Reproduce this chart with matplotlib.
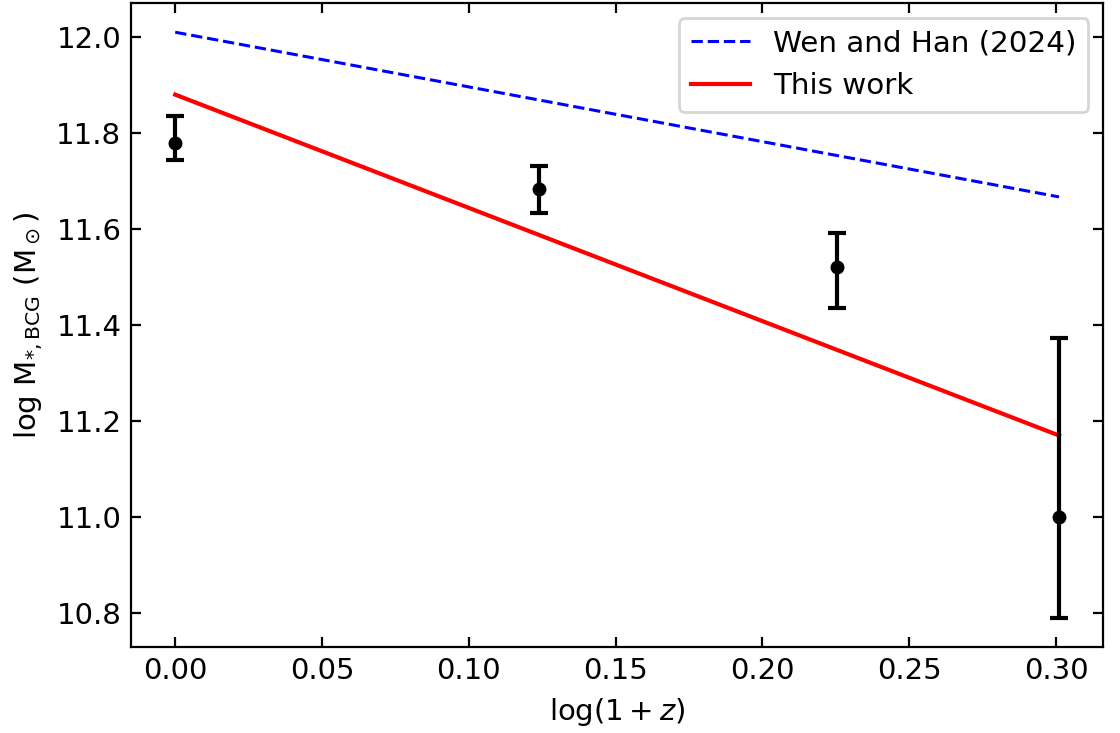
import numpy as np
import matplotlib
matplotlib.use('Agg')
import matplotlib.pyplot as plt

# 数据点 (log(1+z), log M*, 误差)
x_pts = [0.0, 0.1239, 0.2253, 0.3010]
y_pts = [11.779, 11.683, 11.521, 11.000]
err_lo = [0.035, 0.050, 0.086, 0.210]
err_hi = [0.056, 0.048, 0.071, 0.373]

# 两条拟合线的端点
line_x = [0.0, 0.3010]
wen_y = [12.010, 11.667]
this_y = [11.880, 11.170]

plt.rcParams['font.family'] = ['DejaVu Sans']
plt.rcParams['mathtext.fontset'] = 'dejavusans'

fig = plt.figure(figsize=(5.6, 3.665), dpi=200)
ax = fig.add_axes([0.117, 0.117, 0.868, 0.879])

ax.plot(line_x, wen_y, '--', color='blue', lw=1.1, label='Wen and Han (2024)')
ax.plot(line_x, this_y, '-', color='red', lw=1.5, label='This work')
ax.errorbar(x_pts, y_pts, yerr=[err_lo, err_hi], fmt='o', color='black',
            ms=4, elinewidth=1.5, capsize=3.2, capthick=1.5)

ax.set_xticks([0.0, 0.05, 0.10, 0.15, 0.20, 0.25, 0.30])
ax.set_yticks([10.8, 11.0, 11.2, 11.4, 11.6, 11.8, 12.0])
ax.tick_params(direction='in', top=True, right=True, labelsize=10.5, length=3.5)
ax.set_xlabel(r'$\log(1+z)$', fontsize=10.5)
ax.set_ylabel(r'log M$_{*,\mathrm{BCG}}$ (M$_\odot$)', fontsize=10.5)
ax.legend(loc='upper right', fontsize=10.6)

fig.savefig('out.png', dpi=200)
